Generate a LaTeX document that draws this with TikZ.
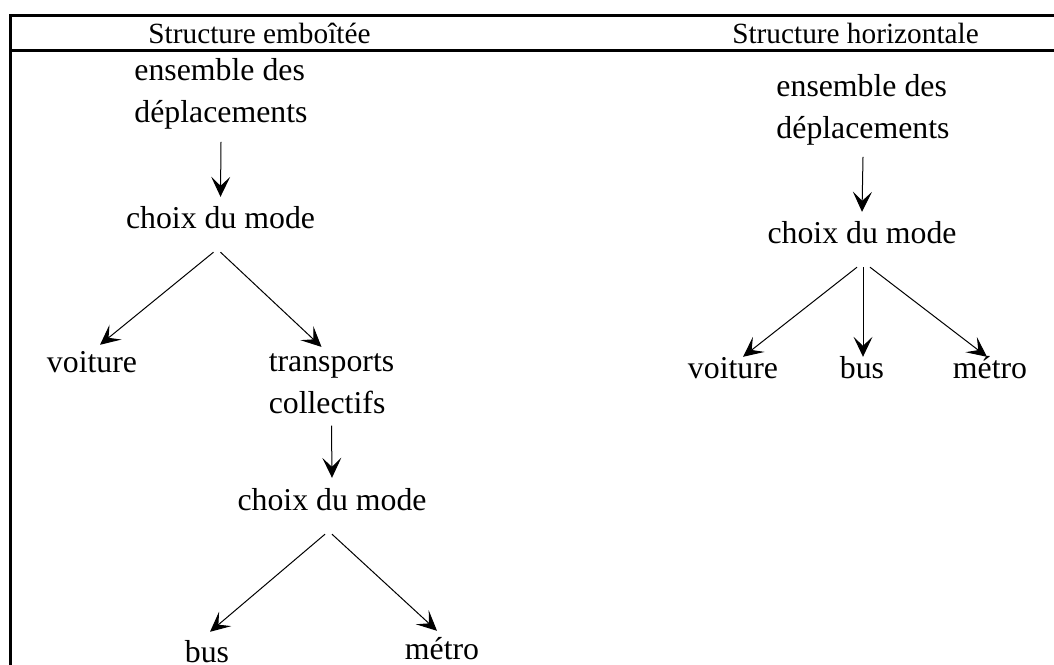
\documentclass[tikz,border=0pt]{standalone}
\usepackage{fontspec}
\setmainfont{Liberation Serif}
\usetikzlibrary{arrows.meta,calc}

\newcommand{\hdfont}{\rmfamily\fontsize{29.3pt}{35pt}\selectfont}
\newcommand{\bdfont}{\rmfamily\fontsize{31.8pt}{42pt}\selectfont}

\begin{document}
\begin{tikzpicture}[x=1pt, y=-1pt,
  word/.style={font=\bdfont, inner sep=0pt, anchor=base, text height=23pt, text depth=8pt},
  words/.style={font=\bdfont, inner sep=0pt, anchor=base, align=left},
  head/.style={font=\hdfont, inner sep=0pt, anchor=base},
  arr/.style={-{Stealth[length=20pt, width=19pt, inset=9pt]}, line width=1pt},
  tabline/.style={line width=3pt}
]
  \useasboundingbox (0,0) rectangle (1054,664);

  % table frame
  \draw[tabline] (1056,15) -- (10,15) -- (10,666);
  \draw[tabline] (10,50) -- (1056,50);
  \node[head] (hemb) at (259.5,43) {Structure emboîtée};
  \node[head] (hhor) at (855.5,43) {Structure horizontale};

  % nested structure
  \node[words] (ensL)  at (221,122)  {ensemble des\\déplacements};
  \node[word]  (cmL)   at (220.5,228) {choix du mode};
  \node[word]  (voitL) at (92,372)   {voiture};
  \node[words] (trL)   at (331.5,413) {transports\\collectifs};
  \node[word]  (cm2L)  at (332,510)  {choix du mode};
  \node[word]  (busL)  at (207,662)  {bus};
  \node[word]  (metL)  at (442,659)  {métro};

  \draw[arr] ([shift={(0,13)}]ensL.south) -- ([shift={(0,-8)}]cmL.north);
  \draw[arr] ([shift={(-7,16)}]cmL.south) -- ([shift={(8,-4)}]voitL.north);
  \draw[arr] ([shift={(0,16)}]cmL.south) -- ([shift={(-10,-6)}]trL.north);
  \draw[arr] ([shift={(0,12)}]trL.south) -- ([shift={(0,-9)}]cm2L.north);
  \draw[arr] ([shift={(-7,16)}]cm2L.south) -- ([shift={(3,-7)}]busL.north);
  \draw[arr] ([shift={(0,16)}]cm2L.south) -- ([shift={(-5,-5)}]metL.north);

  % horizontal structure
  \node[words] (ensR)  at (863,138) {ensemble des\\déplacements};
  \node[word]  (cmR)   at (862,243) {choix du mode};
  \node[word]  (voitR) at (733,378) {voiture};
  \node[word]  (busR)  at (862,378) {bus};
  \node[word]  (metR)  at (990,378) {métro};

  \draw[arr] ([shift={(0,12)}]ensR.south) -- ([shift={(0,-8)}]cmR.north);
  \draw[arr] ([shift={(-5,16)}]cmR.south) -- ([shift={(10,2)}]voitR.north);
  \draw[arr] ([shift={(1,16)}]cmR.south) -- ([shift={(1,2)}]busR.north);
  \draw[arr] ([shift={(8,16)}]cmR.south) -- ([shift={(-3,2)}]metR.north);
\end{tikzpicture}
\end{document}
